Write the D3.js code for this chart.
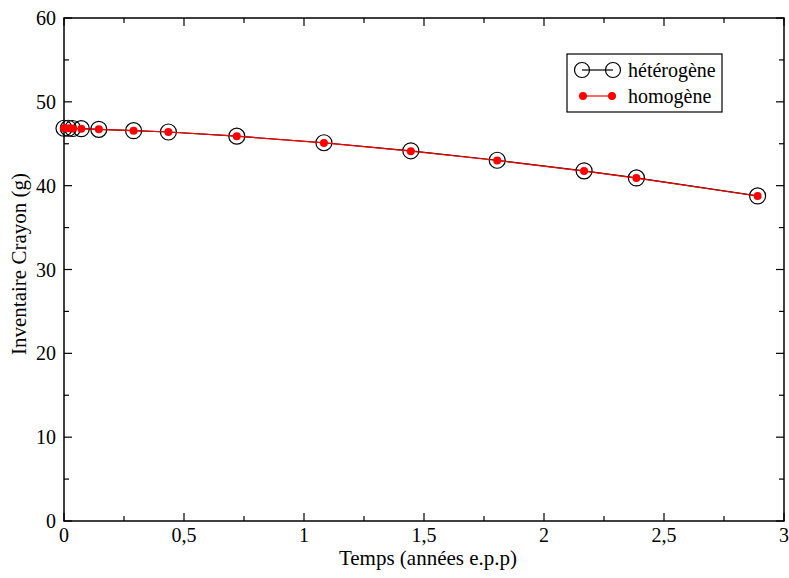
<!DOCTYPE html>
<html><head><meta charset="utf-8">
<script src="https://cdn.jsdelivr.net/npm/d3@7"></script>
<style>body{margin:0;background:#fff}svg{display:block}text{font-family:"Liberation Serif","Times New Roman",serif;}</style>
</head><body>
<svg id="c" width="789" height="578"></svg>
<script>
const timeYears = [0, 0.018, 0.036, 0.072, 0.145, 0.29, 0.435, 0.72, 1.083, 1.445, 1.805, 2.167, 2.385, 2.89];
const heterogene = [46.85, 46.85, 46.82, 46.8, 46.72, 46.56, 46.4, 45.9, 45.12, 44.16, 43.03, 41.77, 40.92, 38.78];
const homogene   = [46.85, 46.85, 46.82, 46.8, 46.72, 46.56, 46.4, 45.9, 45.1, 44.12, 43.0, 41.74, 40.9, 38.77];
const xTicks = [0, 0.5, 1, 1.5, 2, 2.5, 3];
const xTickLabels = ["0", "0,5", "1", "1,5", "2", "2,5", "3"];
const yTicks = [0, 10, 20, 30, 40, 50, 60];
const seriesNames = ["hétérogène", "homogène"];

const svg = d3.select("#c");
const L = 64, R = 784, T = 18, B = 521;
const x = d3.scaleLinear().domain([0, 3]).range([L, R]);
const y = d3.scaleLinear().domain([0, 60]).range([B, T]);

const g = svg.append("g").attr("font-family", "Liberation Serif");
g.append("rect").attr("x", L).attr("y", T).attr("width", R - L).attr("height", B - T)
  .attr("fill", "none").attr("stroke", "#000").attr("stroke-width", 1.5);

const xMinor = d3.range(0.25, 3, 0.5);
const yMinor = d3.range(5, 60, 10);
function tick(x1, y1, x2, y2) {
  g.append("line").attr("x1", x1).attr("y1", y1).attr("x2", x2).attr("y2", y2)
    .attr("stroke", "#000").attr("stroke-width", 1.2);
}
xTicks.forEach(v => { tick(x(v), B, x(v), B - 8); tick(x(v), T, x(v), T + 8); });
xMinor.forEach(v => { tick(x(v), B, x(v), B - 5); tick(x(v), T, x(v), T + 5); });
yTicks.forEach(v => { tick(L, y(v), L + 8, y(v)); tick(R, y(v), R - 8, y(v)); });
yMinor.forEach(v => { tick(L, y(v), L + 5, y(v)); tick(R, y(v), R - 5, y(v)); });

xTicks.forEach((v, i) => {
  g.append("text").attr("x", x(v)).attr("y", B + 21).attr("text-anchor", "middle")
    .attr("font-size", 20).text(xTickLabels[i]);
});
yTicks.forEach(v => {
  g.append("text").attr("x", L - 8).attr("y", y(v) + 7).attr("text-anchor", "end")
    .attr("font-size", 20).text(v);
});

g.append("text").attr("x", 428).attr("y", 565).attr("text-anchor", "middle")
  .attr("font-size", 21).text("Temps (années e.p.p)");
g.append("text").attr("transform", `translate(26,264) rotate(-90)`)
  .attr("text-anchor", "middle").attr("font-size", 21).text("Inventaire Crayon (g)");

const d1 = timeYears.map((t, i) => [t, heterogene[i]]);
const d2 = timeYears.map((t, i) => [t, homogene[i]]);
const line = d3.line().x(d => x(d[0])).y(d => y(d[1]));
g.append("path").datum(d1).attr("d", line).attr("fill", "none").attr("stroke", "#000").attr("stroke-width", 1.2);
g.selectAll(".c1").data(d1).join("circle").attr("cx", d => x(d[0])).attr("cy", d => y(d[1]))
  .attr("r", 8).attr("fill", "none").attr("stroke", "#000").attr("stroke-width", 1.2);
g.append("path").datum(d2).attr("d", line).attr("fill", "none").attr("stroke", "#ff0000").attr("stroke-width", 1.2);
g.selectAll(".c2").data(d2).join("circle").attr("cx", d => x(d[0])).attr("cy", d => y(d[1]))
  .attr("r", 4).attr("fill", "#ff0000");

const lg = g.append("g");
lg.append("rect").attr("x", 567).attr("y", 54).attr("width", 155).attr("height", 58)
  .attr("fill", "#fff").attr("stroke", "#000").attr("stroke-width", 1.2);
lg.append("line").attr("x1", 582).attr("x2", 613).attr("y1", 70).attr("y2", 70).attr("stroke", "#000").attr("stroke-width", 1.2);
[582, 613].forEach(cx => lg.append("circle").attr("cx", cx).attr("cy", 70).attr("r", 7.5)
  .attr("fill", "none").attr("stroke", "#000").attr("stroke-width", 1.2));
lg.append("text").attr("x", 628).attr("y", 77).attr("font-size", 20).text(seriesNames[0]);
lg.append("line").attr("x1", 583).attr("x2", 612).attr("y1", 96).attr("y2", 96).attr("stroke", "#ff0000").attr("stroke-width", 1.2);
[583, 612].forEach(cx => lg.append("circle").attr("cx", cx).attr("cy", 96).attr("r", 4).attr("fill", "#ff0000"));
lg.append("text").attr("x", 628).attr("y", 103).attr("font-size", 20).text(seriesNames[1]);
</script>
</body></html>
